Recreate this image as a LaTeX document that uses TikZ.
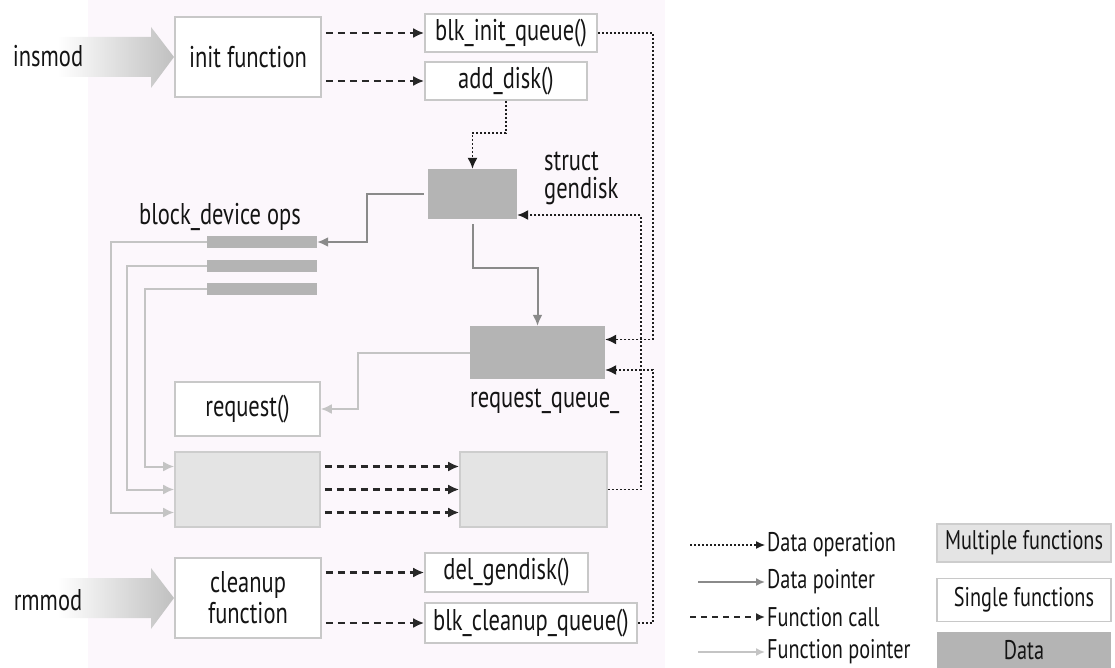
\documentclass[tikz,border=0pt]{standalone}
\usepackage{fontspec}
\newfontfamily\cf{PT Sans}[FakeStretch=0.75]
\usetikzlibrary{arrows.meta,calc}
\definecolor{panel}{RGB}{252,247,252}
\definecolor{textc}{RGB}{20,20,20}
\definecolor{boxc}{RGB}{200,200,200}
\definecolor{mboxc}{RGB}{205,205,205}
\definecolor{mfill}{RGB}{228,228,228}
\definecolor{dfill}{RGB}{180,180,180}
\definecolor{callc}{RGB}{40,40,40}
\definecolor{dopc}{RGB}{30,30,30}
\definecolor{ptrc}{RGB}{138,138,138}
\definecolor{fptrc}{RGB}{196,196,196}
\definecolor{arrowc}{RGB}{192,192,192}
\begin{document}
\begin{tikzpicture}[x=1pt,y=-1pt,
  txt/.style={font=\cf\fontsize{30}{28}\selectfont, text=textc, inner sep=0pt},
  ltxt/.style={font=\cf\fontsize{27}{28}\selectfont, text=textc, inner sep=0pt},
  sbox/.style={txt, draw=boxc, line width=1.6pt, fill=white, align=center},
  mbox/.style={draw=mboxc, line width=1.6pt, fill=mfill},
  dbox/.style={draw=none, fill=dfill, inner sep=0pt},
  tipb/.style={-{Latex[length=11pt,width=10pt]}},
  fcall/.style={draw=callc, line width=2.2pt, dash pattern=on 7pt off 5pt, tipb},
  dop/.style={draw=dopc, line width=1.5pt, dash pattern=on 2pt off 2pt, tipb},
  dptr/.style={draw=ptrc, line width=2pt, tipb},
  fptr/.style={draw=fptrc, line width=2pt, tipb},
]
\useasboundingbox (0,0) rectangle (1115,668);
\fill[panel] (88,0) rectangle (665,668);

% big entry arrows
\shade[left color=white,right color=arrowc] (58,37) -- (151,37) -- (151,27) -- (174,57) -- (151,88) -- (151,77) -- (58,77) -- cycle;
\shade[left color=white,right color=arrowc] (58,578) -- (151,578) -- (151,568) -- (174,598) -- (151,629) -- (151,618) -- (58,618) -- cycle;
\node[txt] (insmod) at (48,56) {insmod};
\node[txt] (rmmod) at (48,600) {rmmod};

% boxes
\node[sbox, minimum width=146pt, minimum height=80pt] (initf) at (248,57) {init function};
\node[sbox, minimum width=172pt, minimum height=38pt] (bik) at (511,33) {blk\_init\_queue()};
\node[sbox, minimum width=162pt, minimum height=38pt] (add) at (506,81) {add\_disk()};
\node[dbox, minimum width=89pt, minimum height=50pt] (gd) at (472.5,194) {};
\node[txt, align=left, anchor=west] (gdl) at (544,178) {struct\\gendisk};
\node[txt] (bdo) at (220,217) {block\_device ops};
\node[dbox, minimum width=110pt, minimum height=12pt] (bar1) at (262,242) {};
\node[dbox, minimum width=110pt, minimum height=12pt] (bar2) at (262,265.5) {};
\node[dbox, minimum width=110pt, minimum height=12pt] (bar3) at (262,289) {};
\node[dbox, minimum width=135pt, minimum height=53pt] (rq) at (537.5,352.5) {};
\node[txt, anchor=west] (rql) at (470,401) {request\_queue\_};
\node[sbox, minimum width=145pt, minimum height=54pt] (req) at (247.5,409) {request()};
\node[mbox, minimum width=145pt, minimum height=75pt] (ml) at (247.5,489.5) {};
\node[mbox, minimum width=147pt, minimum height=75pt] (mr) at (533.5,489.5) {};
\node[sbox, minimum width=146pt, minimum height=80pt, font=\cf\fontsize{30}{31}\selectfont] (clean) at (248,598) {cleanup\\function};
\node[sbox, minimum width=163pt, minimum height=39pt] (dg) at (506.5,572.5) {del\_gendisk()};
\node[sbox, minimum width=212pt, minimum height=40pt] (bcq) at (531,623) {blk\_cleanup\_queue()};

% function calls
\draw[fcall, shorten <=4pt] (initf.east |- bik.west) -- (bik.west);
\draw[fcall, shorten <=4pt] (initf.east |- add.west) -- (add.west);
\draw[fcall, shorten <=4pt] (clean.east |- dg.west) -- (dg.west);
\draw[fcall, shorten <=4pt] (clean.east |- bcq.west) -- (bcq.west);
\draw[fcall, shorten <=4pt] ([yshift=23pt]ml.east) -- ([yshift=23pt]mr.west);
\draw[fcall, shorten <=4pt] (ml.east) -- (mr.west);
\draw[fcall, shorten <=4pt] ([yshift=-23pt]ml.east) -- ([yshift=-23pt]mr.west);

% data operations
\draw[dop] (bik.east) -- ++(55,0) |- ([yshift=13pt]rq.east);
\draw[dop] (add.south) -- ++(0,32) -| (gd.north);
\draw[dop] (mr.east) -- ++(33,0) |- ([yshift=-21pt]gd.east);
\draw[dop] (bcq.east) -- ++(15,0) |- ([yshift=-17.5pt]rq.east);

% data pointers
\draw[dptr, shorten <=4pt] (gd.west) -- ++(-61,0) |- (bar1.east);
\draw[dptr, shorten <=5pt] (gd.south) -- ++(0,49) -| (rq.north);

% function pointers
\draw[fptr] (rq.west) -- ++(-112,0) |- (req.east);
\draw[fptr] (bar1.west) -- ++(-96,0) |- ([yshift=-23pt]ml.west);
\draw[fptr] (bar2.west) -- ++(-80,0) |- (ml.west);
\draw[fptr] (bar3.west) -- ++(-62,0) |- ([yshift=23pt]ml.west);

% legend
\coordinate (lg1) at (690,545);
\coordinate (lg2) at (698,582);
\coordinate (lg3) at (690,617);
\coordinate (lg4) at (698,652);
\node[ltxt, anchor=west] (lt1) at (767,545) {Data operation};
\node[ltxt, anchor=west] (lt2) at (767,582) {Data pointer};
\node[ltxt, anchor=west] (lt3) at (767,617) {Function call};
\node[ltxt, anchor=west] (lt4) at (767,652) {Function pointer};
\draw[dop, line width=1.2pt, -{Latex[length=9pt,width=8pt]}, shorten >=2pt] (lg1) -- (lt1.west);
\draw[dptr, line width=1.6pt, -{Latex[length=9pt,width=8pt]}, shorten >=2pt] (lg2) -- (lt2.west);
\draw[fcall, line width=1.6pt, dash pattern=on 6pt off 5pt, -{Latex[length=9pt,width=8pt]}, shorten >=2pt] (lg3) -- (lt3.west);
\draw[fptr, line width=1.6pt, -{Latex[length=9pt,width=8pt]}, shorten >=2pt] (lg4) -- (lt4.west);
\node[mbox, ltxt, minimum width=174pt, minimum height=38pt] (lb1) at (1024,543) {Multiple functions};
\node[sbox, ltxt, minimum width=174pt, minimum height=43pt] (lb2) at (1024,600) {Single functions};
\node[dbox, ltxt, minimum width=174pt, minimum height=36pt] (lb3) at (1024,650) {Data};
\end{tikzpicture}
\end{document}
